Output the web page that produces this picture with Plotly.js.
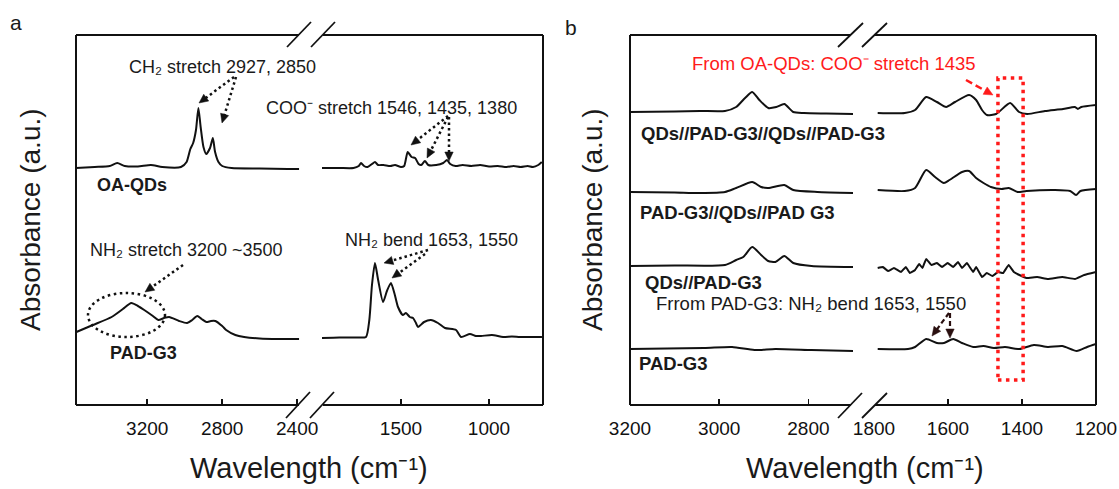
<!DOCTYPE html>
<html>
<head>
<meta charset="utf-8">
<script src="https://cdn.plot.ly/plotly-3.0.1.min.js"></script>
<style>html,body{margin:0;padding:0;background:#fff;}#chart{width:1119px;height:489px;}</style>
</head>
<body>
<div id="chart"></div>
<script>
// ---------- DATA ----------
// Panel a, high-wavenumber segment
const waveA_L_oa = [3580,3480,3400,3360,3320,3250,3180,3120,3020,2990,2970,2955,2940,2927,2915,2900,2885,2865,2850,2838,2820,2800,2750,2600,2450,2390];
const absA_L_oa  = [23.7,23.8,23.9,24.2,23.9,23.85,24.0,23.8,23.8,24.3,25.6,26.2,27.5,29.7,27.8,25.8,25.1,25.7,26.7,25.3,24.3,23.9,23.7,23.65,23.6,23.6];
const waveA_L_pad = [3578,3490,3390,3330,3285,3250,3216,3170,3141,3110,3083,3030,2987,2960,2933,2910,2885,2860,2837,2800,2779,2730,2683,2600,2500,2390];
const absA_L_pad  = [7.3,8.0,8.8,9.6,10.2,9.9,9.5,8.9,8.5,8.7,8.8,8.4,8.2,8.5,8.9,8.6,8.3,8.4,8.4,7.9,7.5,7.0,6.8,6.65,6.6,6.6];
// Panel a, fingerprint segment
const waveA_R_oa = [1949,1850,1770,1740,1727,1710,1690,1665,1648,1630,1600,1560,1534,1500,1482,1462,1440,1420,1400,1385,1364,1345,1300,1260,1239,1220,1190,1150,1100,1050,1000,950,900,860,820,780,750,720,700];
const absA_R_oa  = [23.7,23.7,23.7,23.9,24.2,23.9,23.8,24.1,24.3,24.0,24.0,23.9,24.0,23.8,23.9,25.3,24.8,24.7,24.1,24.0,24.4,24.0,24.0,24.2,24.5,24.1,23.9,24.0,23.9,24.0,23.85,23.9,23.8,23.9,23.8,23.9,23.8,24.0,24.3];
const waveA_R_pad = [1949,1850,1750,1699,1680,1665,1648,1630,1602,1580,1557,1535,1517,1490,1472,1450,1432,1415,1403,1369,1330,1290,1250,1187,1159,1108,1075,1045,983,920,870,824,761,699];
const absA_R_pad  = [6.7,6.75,6.75,6.8,8.5,12.0,14.2,12.5,10.3,11.4,12.2,11.0,9.8,9.0,9.2,8.8,8.7,8.2,7.8,8.3,8.5,8.2,7.7,7.5,6.8,7.1,6.9,6.9,7.0,6.8,6.85,6.8,6.8,6.8];

// Panel b, high-wavenumber segment
const waveB_L_c1 = [3200,3100,3043,2987,2962,2942,2926,2910,2890,2872,2854,2834,2810,2760,2700];
const absB_L_c1  = [29.3,29.35,29.4,29.4,29.8,30.7,31.3,30.5,29.7,29.8,30.1,29.3,29.2,29.15,29.1];
const waveB_L_c2 = [3200,3100,3043,2987,2962,2926,2906,2890,2854,2834,2780,2700];
const absB_L_c2  = [21.3,21.25,21.2,21.3,21.7,22.3,21.8,21.7,22.0,21.5,21.3,21.2];
const waveB_L_c3 = [3200,3100,2987,2962,2946,2926,2906,2890,2874,2854,2834,2793,2700];
const absB_L_c3  = [13.9,13.95,14.0,14.5,14.8,15.8,15.0,14.4,14.3,14.9,14.2,13.9,13.8];
const waveB_L_c4 = [3200,3034,2971,2921,2874,2793,2700];
const absB_L_c4  = [5.6,5.7,5.8,5.5,5.6,5.5,5.4];
// Panel b, fingerprint segment
const waveB_R_c1 = [1790,1717,1689,1659,1630,1605,1581,1543,1524,1508,1495,1470,1432,1408,1386,1338,1289,1257,1249,1240,1200];
const absB_R_c1  = [29.2,29.2,29.5,30.8,30.3,29.8,30.3,31.0,30.5,29.5,29.0,29.1,30.2,29.3,29.1,29.4,29.6,29.8,29.6,29.8,30.0];
const waveB_R_c2 = [1790,1717,1689,1659,1635,1611,1596,1562,1543,1524,1504,1484,1455,1436,1412,1388,1311,1270,1254,1242,1200];
const absB_R_c2  = [21.5,21.4,21.7,23.5,22.8,22.2,22.5,23.3,23.4,22.7,22.2,21.8,21.6,21.7,21.3,21.4,21.5,21.4,21.0,21.4,21.6];
const waveB_R_c3 = [1790,1776,1762,1746,1727,1714,1703,1689,1678,1669,1659,1645,1630,1616,1601,1586,1573,1562,1549,1532,1524,1508,1495,1480,1465,1451,1436,1422,1407,1388,1359,1330,1291,1257,1232,1200];
const absB_R_c3  = [13.7,13.8,13.4,13.7,13.3,13.8,13.2,13.5,14.1,13.7,14.6,14.0,14.2,13.8,14.2,13.8,14.3,13.7,14.2,13.3,13.8,12.8,13.2,12.9,13.3,13.2,14.0,13.3,13.0,12.7,12.8,12.6,12.8,12.6,13.0,13.3];
const waveB_R_c4 = [1790,1708,1689,1659,1630,1611,1586,1562,1532,1504,1476,1446,1407,1368,1330,1291,1252,1224,1200];
const absB_R_c4  = [5.6,5.6,5.8,6.6,6.2,6.2,6.6,6.2,5.8,5.9,5.7,5.8,5.6,6.0,5.8,5.9,5.4,5.8,6.1];

// tick labels
const ticksA_L = [3200,2800,2400];
const ticksA_R = [1500,1000];
const ticksB_L = [3200,3000,2800];
const ticksB_R = [1800,1600,1400,1200];
// highlighted COO- region in panel b (cm-1) and its vertical extent (a.u.)
const highlightWave = [1465,1397];
const highlightAbs = [2.5,32.7];

// ---------- LAYOUT HELPERS ----------
const W = 1119, H = 489;
const X = p => p / W;
const Y = p => 1 - p / H;
const FONT = "Liberation Sans, Arial, Helvetica, sans-serif";
const INK = '#111';

function seg(x, y, xa, ya, smooth) {
  return {type:'scatter', mode:'lines', x:x, y:y, xaxis:xa, yaxis:ya,
    line:{color:INK, width:2, shape:'spline', smoothing: smooth == null ? 0.6 : smooth},
    hoverinfo:'skip', showlegend:false};
}

const data = [
  seg(waveA_L_oa, absA_L_oa, 'x', 'y'),
  seg(waveA_L_pad, absA_L_pad, 'x', 'y'),
  seg(waveA_R_oa, absA_R_oa, 'x2', 'y'),
  seg(waveA_R_pad, absA_R_pad, 'x2', 'y'),
  seg(waveB_L_c1, absB_L_c1, 'x3', 'y2'),
  seg(waveB_L_c2, absB_L_c2, 'x3', 'y2'),
  seg(waveB_L_c3, absB_L_c3, 'x3', 'y2'),
  seg(waveB_L_c4, absB_L_c4, 'x3', 'y2'),
  seg(waveB_R_c1, absB_R_c1, 'x4', 'y2'),
  seg(waveB_R_c2, absB_R_c2, 'x4', 'y2'),
  seg(waveB_R_c3, absB_R_c3, 'x4', 'y2', 0.25),
  seg(waveB_R_c4, absB_R_c4, 'x4', 'y2'),
];

function xax(domain, range, ticks, anchor) {
  return {domain:[X(domain[0]), X(domain[1])], range:range, anchor:anchor,
    tickmode:'array', tickvals:ticks, ticktext:ticks.map(String),
    ticks:'inside', ticklen:6, tickwidth:1.5, tickcolor:INK,
    showline:false, showgrid:false, zeroline:false,
    ticklabelstandoff:10,
    tickfont:{family:FONT, size:19, color:INK}, fixedrange:true};
}
function yax(anchor) {
  return {domain:[Y(405), Y(35)], range:[0,37], anchor:anchor, visible:false,
    showgrid:false, zeroline:false, fixedrange:true};
}

const shapes = [];
function pline(x0,y0,x1,y1,opt) {
  opt = opt || {};
  shapes.push({type:'line', xref:'paper', yref:'paper', x0:X(x0), y0:Y(y0), x1:X(x1), y1:Y(y1),
    line:{color:opt.color||INK, width:opt.width||2, dash:opt.dash||'solid'}});
}
// Panel a frame
pline(76,35,76,405); pline(543,35,543,405);
pline(76,35,299,35); pline(323,35,543,35);
pline(76,405,299,405); pline(323,405,543,405);
pline(287,47,311,22,{width:1.8}); pline(311,47,335,22,{width:1.8});
pline(286,418,310,392,{width:1.8}); pline(310,418,334,392,{width:1.8});
// Panel b frame
pline(630,35,630,405); pline(1096,35,1096,405);
pline(630,35,851,35); pline(875,35,1096,35);
pline(630,405,851,405); pline(875,405,1096,405);
pline(838,47,863,23,{width:1.8}); pline(862,47,887,23,{width:1.8});
pline(838,418,862,393,{width:1.8}); pline(862,418,887,393,{width:1.8});

// dotted ellipse around NH2 stretch
shapes.push({type:'circle', xref:'paper', yref:'paper', x0:X(88), x1:X(165), y0:Y(337), y1:Y(293),
  line:{color:INK, width:2.5, dash:'2.5px,3.5px'}});
// red dotted highlight box
shapes.push({type:'rect', xref:'x4', yref:'y2', x0:highlightWave[0], x1:highlightWave[1],
  y0:highlightAbs[0], y1:highlightAbs[1], line:{color:'#ff1a1a', width:3.5, dash:'3.5px,4.5px'}});

// arrow: dashed/dotted shaft + filled triangular head (path shape)
function arrow(x0,y0,x1,y1,opt) {
  opt = opt || {};
  const col = opt.color || INK;
  const dx = x1-x0, dy = y1-y0, L = Math.hypot(dx,dy);
  const ux = dx/L, uy = dy/L;
  const hl = 9, hw = 4.2;
  const bx = x1 - ux*hl, by = y1 - uy*hl;
  pline(x0,y0,bx+ux*1,by+uy*1,{color:col, width:opt.width||2.5, dash:opt.dash||'2.5px,3px'});
  const p1 = [bx - uy*hw, by + ux*hw], p2 = [bx + uy*hw, by - ux*hw];
  const path = 'M' + X(x1) + ',' + Y(y1) + ' L' + X(p1[0]) + ',' + Y(p1[1]) +
               ' L' + X(p2[0]) + ',' + Y(p2[1]) + ' Z';
  shapes.push({type:'path', xref:'paper', yref:'paper', path:path, fillcolor:col,
    line:{color:col, width:0.5}});
}

const annotations = [];
function txt(t, px, py, opt) {
  opt = opt || {};
  annotations.push({text:t, xref:'paper', yref:'paper', x:X(px), y:Y(py), showarrow:false,
    xanchor:opt.xanchor||'center', yanchor:'middle', textangle:opt.angle||0,
    font:{family:FONT, size:opt.size||18, color:opt.color||'#1a1a1a'}});
}

// panel letters
txt('a', 16, 23, {size:21});
txt('b', 571, 27, {size:21});
// axis titles
txt('Absorbance (a.u.)', 31, 220, {size:28, angle:-90});
txt('Absorbance (a.u.)', 593, 220, {size:28, angle:-90});
txt('Wavelength (cm⁻¹)', 309, 468, {size:29});
txt('Wavelength (cm⁻¹)', 865, 468, {size:29});
// panel a labels
txt('CH₂ stretch 2927, 2850', 222, 67);
txt('COO⁻ stretch 1546, 1435, 1380', 391, 108);
txt('<b>OA-QDs</b>', 132, 185);
txt('NH₂ stretch 3200 ~3500', 186, 250);
txt('<b>PAD-G3</b>', 143, 353);
txt('NH₂ bend 1653, 1550', 431, 240);
// panel b labels
txt('From OA-QDs: COO⁻ stretch 1435', 834, 63, {size:18.5, color:'#ff1a1a'});
txt('<b>QDs//PAD-G3//QDs//PAD-G3</b>', 763, 133, {size:18.5});
txt('<b>PAD-G3//QDs//PAD G3</b>', 737, 213, {size:18.5});
txt('<b>QDs//PAD-G3</b>', 703, 282, {size:18.5});
txt('Frrom PAD-G3: NH₂ bend 1653, 1550', 811, 303, {size:18.5});
txt('<b>PAD-G3</b>', 673, 363, {size:18.5});

// arrows panel a
arrow(234,77,199,103);
arrow(236,77,222,123);
arrow(448,116,411,145);
arrow(448,117,427,158);
arrow(449,117,449,161);
arrow(183,265,145,292);
arrow(428,250,384,263);
arrow(425,254,392,278);
// arrows panel b
arrow(966,80,993,95,{color:'#ff1a1a', dash:'7px,4px', width:2.5});
arrow(949,313,932,336,{color:'#2a1010', dash:'5px,3px', width:2.2});
arrow(950,313,950,338,{color:'#2a1010', dash:'5px,3px', width:2.2});

const layout = {
  width:W, height:H, margin:{l:0,r:0,t:0,b:0}, autosize:false,
  paper_bgcolor:'#fff', plot_bgcolor:'rgba(0,0,0,0)', showlegend:false,
  font:{family:FONT, color:INK},
  xaxis: xax([76,300],[3580,2385],ticksA_L,'y'),
  xaxis2: xax([322,543],[1949,693],ticksA_R,'y'),
  xaxis3: xax([630,853],[3200,2700],ticksB_L,'y2'),
  xaxis4: xax([874,1096],[1800,1200],ticksB_R,'y2'),
  yaxis: yax('x'),
  yaxis2: yax('x3'),
  shapes: shapes,
  annotations: annotations
};

Plotly.newPlot('chart', data, layout, {staticPlot:true, displayModeBar:false});
</script>
</body>
</html>
